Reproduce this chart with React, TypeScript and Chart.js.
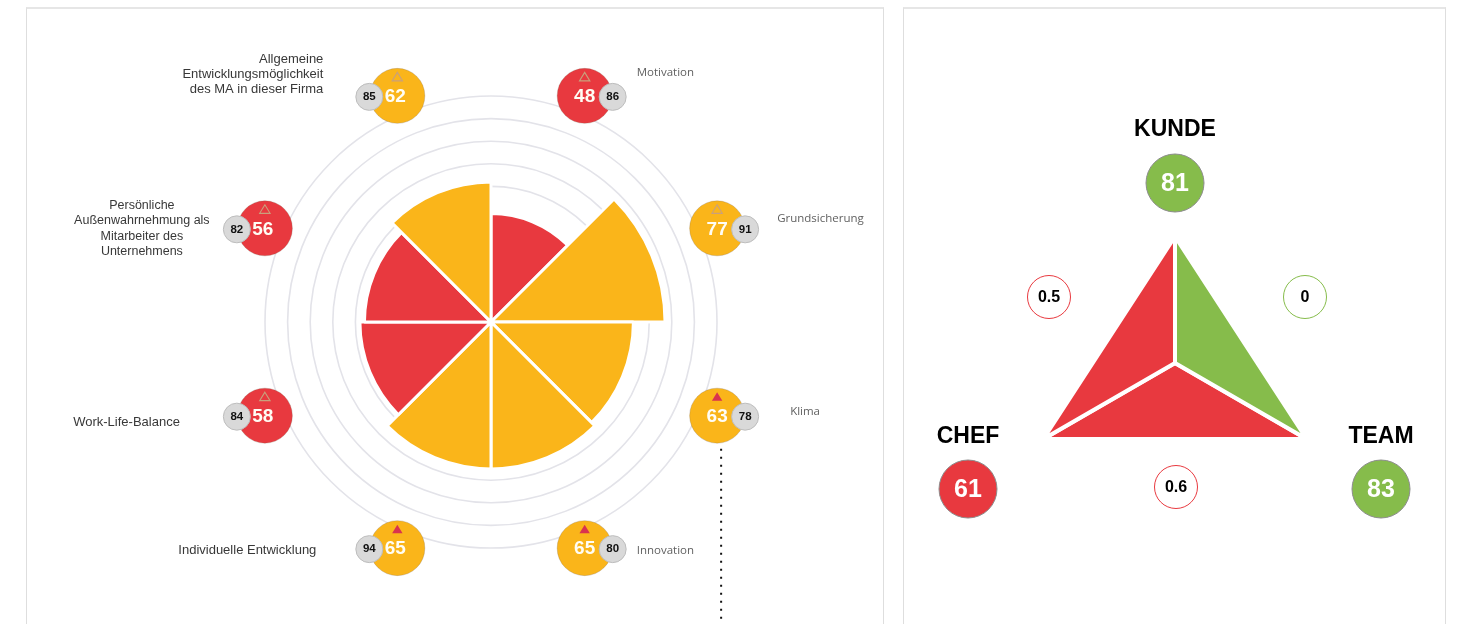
import React, { useEffect, useRef } from 'react';
import { Chart, registerables } from 'chart.js';

Chart.register(...registerables);

// ---------- Left chart data (clockwise from top) ----------
const categories = [
  'Motivation',
  'Grundsicherung',
  'Klima',
  'Innovation',
  'Individuelle Entwicklung',
  'Work-Life-Balance',
  'Persönliche Außenwahrnehmung als Mitarbeiter des Unternehmens',
  'Allgemeine Entwicklungsmöglichkeit des MA in dieser Firma',
];
const categoryLines = [
  ['Motivation'],
  ['Grundsicherung'],
  ['Klima'],
  ['Innovation'],
  ['Individuelle Entwicklung'],
  ['Work-Life-Balance'],
  ['Persönliche', 'Außenwahrnehmung als', 'Mitarbeiter des', 'Unternehmens'],
  ['Allgemeine', 'Entwicklungsmöglichkeit', 'des MA in dieser Firma'],
];
const scores = [48, 77, 63, 65, 65, 58, 56, 62];
const benchmarks = [86, 91, 78, 80, 94, 84, 82, 85];
const trendUp = [false, false, true, true, true, false, false, false];
const ringTicks = [60, 70, 80, 90, 100];
const scoreThreshold = 60;
const bubbleRingValue = 108.3;
const connectorIndex = 2;

// ---------- Right chart data ----------
const triangleAxes = ['KUNDE', 'TEAM', 'CHEF'];
const triangleScores = [81, 83, 61];
const pairNames = ['KUNDE–TEAM', 'TEAM–CHEF', 'CHEF–KUNDE'];
const pairValues = [0, 0.6, 0.5];
const greenSegment = [5, 6, 0];
const redLeftSegment = [5, 0, 6];
const redBottomSegment = [0, 6, 6];

// ---------- Styles ----------
const ORANGE = '#FAB51A';
const RED = '#E8393F';
const GREEN = '#86BC4B';
const SANS = "'Liberation Sans', Arial, sans-serif";
const HUMAN = "'Open Sans', 'Noto Sans', sans-serif";

const labelLayout = [
  { dx: 52, dy: -23, align: 'left', right: true, size: 11.5, lh: 15 },
  { dx: 60, dy: -10, align: 'left', right: true, size: 11.5, lh: 15 },
  { dx: 73, dy: -4, align: 'left', right: true, size: 11.5, lh: 15 },
  { dx: 52, dy: 3, align: 'left', right: true, size: 11.5, lh: 15 },
  { dx: -81, dy: 2, align: 'right', right: false, size: 13, lh: 15 },
  { dx: -85, dy: 7, align: 'right', right: false, size: 13, lh: 15 },
  { dx: -123, dy: 0, align: 'center', right: false, size: 12.5, lh: 15.5 },
  { dx: -74, dy: -21, align: 'right', right: false, size: 13, lh: 15 },
];

const colorFor = (v: number) => (v >= scoreThreshold ? ORANGE : RED);

function drawMarker(ctx: CanvasRenderingContext2D, x: number, y: number, filled: boolean) {
  ctx.beginPath();
  ctx.moveTo(x, y - 4.5);
  ctx.lineTo(x + 5.2, y + 4);
  ctx.lineTo(x - 5.2, y + 4);
  ctx.closePath();
  if (filled) {
    ctx.fillStyle = '#D9334F';
    ctx.fill();
  } else {
    ctx.strokeStyle = '#C9A07C';
    ctx.lineWidth = 1.1;
    ctx.stroke();
  }
}

const bubblePlugin = {
  id: 'bubbles',
  afterDraw(chart: any) {
    const ctx: CanvasRenderingContext2D = chart.ctx;
    const scale = chart.scales.r;
    const meta = chart.getDatasetMeta(0);
    const dist = scale.getDistanceFromCenterForValue(bubbleRingValue);
    ctx.save();
    meta.data.forEach((arc: any, i: number) => {
      const { x, y, startAngle, endAngle } = arc.getProps(['x', 'y', 'startAngle', 'endAngle'], true);
      const mid = (startAngle + endAngle) / 2;
      const px = x + Math.cos(mid) * dist;
      const py = y + Math.sin(mid) * dist;
      const side = Math.cos(mid) > 0 ? 1 : -1;

      if (i === connectorIndex) {
        ctx.save();
        ctx.strokeStyle = '#111';
        ctx.lineWidth = 2;
        ctx.setLineDash([2, 6]);
        ctx.beginPath();
        ctx.moveTo(px + 4, py + 33);
        ctx.lineTo(px + 4, chart.height + 10);
        ctx.stroke();
        ctx.restore();
      }

      // main bubble
      ctx.beginPath();
      ctx.arc(px, py, 27.5, 0, Math.PI * 2);
      ctx.fillStyle = colorFor(scores[i]);
      ctx.fill();
      ctx.strokeStyle = 'rgba(120,100,80,0.25)';
      ctx.lineWidth = 1;
      ctx.stroke();

      // benchmark bubble
      const gx = px + side * 28;
      const gy = py + 1;
      ctx.beginPath();
      ctx.arc(gx, gy, 13.5, 0, Math.PI * 2);
      ctx.fillStyle = '#D9D9D9';
      ctx.fill();
      ctx.strokeStyle = '#BDBDBD';
      ctx.lineWidth = 1;
      ctx.stroke();

      ctx.textBaseline = 'middle';
      ctx.textAlign = 'center';
      ctx.fillStyle = '#FFFDF5';
      ctx.font = `bold 19px ${SANS}`;
      ctx.fillText(String(scores[i]), px - (side < 0 ? 2 : 0), py + 1);

      ctx.fillStyle = '#111';
      ctx.font = `bold 11.5px ${SANS}`;
      ctx.fillText(String(benchmarks[i]), gx, gy);

      drawMarker(ctx, px, py - 19, trendUp[i]);

      // category label
      const lay = labelLayout[i];
      const lines = categoryLines[i];
      const lh = lay.lh;
      ctx.textAlign = lay.align as CanvasTextAlign;
      if (lay.right) {
        ctx.font = `${lay.size}px ${HUMAN}`;
        ctx.fillStyle = '#616161';
      } else {
        ctx.font = `${lay.size}px ${SANS}`;
        ctx.fillStyle = '#383838';
      }
      const startY = py + lay.dy - ((lines.length - 1) * lh) / 2;
      lines.forEach((ln, k) => {
        ctx.fillText(ln, px + lay.dx, startY + k * lh);
      });
    });
    ctx.restore();
  },
};

const axisLayout = [
  { lx: 0, ly: -233, bx: 0, by: -180 },
  { lx: 206, ly: 74, bx: 206, by: 126 },
  { lx: -207, ly: 74, bx: -207, by: 126 },
];
const pairLayout = [
  { x: 130, y: -66 },
  { x: 1, y: 124 },
  { x: -126, y: -66 },
];

const trianglePlugin = {
  id: 'triangleLabels',
  afterDraw(chart: any) {
    const ctx: CanvasRenderingContext2D = chart.ctx;
    const s = chart.scales.r;
    const cx = s.xCenter;
    const cy = s.yCenter;
    ctx.save();
    ctx.textAlign = 'center';
    ctx.textBaseline = 'middle';
    triangleAxes.forEach((name, i) => {
      const L = axisLayout[i];
      ctx.fillStyle = '#000';
      ctx.font = `bold 23px ${SANS}`;
      ctx.fillText(name, cx + L.lx, cy + L.ly);
      ctx.beginPath();
      ctx.arc(cx + L.bx, cy + L.by, 29, 0, Math.PI * 2);
      ctx.fillStyle = triangleScores[i] >= 75 ? GREEN : RED;
      ctx.fill();
      ctx.strokeStyle = '#8C8C8C';
      ctx.lineWidth = 1;
      ctx.stroke();
      ctx.fillStyle = '#fff';
      ctx.font = `bold 25px ${SANS}`;
      ctx.fillText(String(triangleScores[i]), cx + L.bx, cy + L.by + 1);
    });
    pairNames.forEach((_, i) => {
      const P = pairLayout[i];
      ctx.beginPath();
      ctx.arc(cx + P.x, cy + P.y, 21.5, 0, Math.PI * 2);
      ctx.fillStyle = '#fff';
      ctx.fill();
      ctx.strokeStyle = pairValues[i] > 0.3 ? RED : GREEN;
      ctx.lineWidth = 1;
      ctx.stroke();
      ctx.fillStyle = '#000';
      ctx.font = `bold 16px ${SANS}`;
      ctx.fillText(String(pairValues[i]), cx + P.x, cy + P.y + 1);
    });
    ctx.restore();
  },
};

const innerEdgesOnly = (data: number[]) => ({
  borderColor: (c: any) =>
    data[c.p0DataIndex] > 0 && data[c.p1DataIndex] > 0 ? 'rgba(255,255,255,0)' : '#ffffff',
});

export default function App() {
  const leftRef = useRef<HTMLCanvasElement>(null);
  const rightRef = useRef<HTMLCanvasElement>(null);

  useEffect(() => {
    const polar = new Chart(leftRef.current as HTMLCanvasElement, {
      type: 'polarArea',
      data: {
        labels: categories,
        datasets: [
          {
            data: scores,
            backgroundColor: scores.map(colorFor),
            borderColor: '#ffffff',
            borderWidth: 3,
          },
        ],
      },
      options: {
        responsive: false,
        animation: false,
        layout: { padding: { left: 265, top: 96, right: 741, bottom: 76 } },
        plugins: { legend: { display: false }, tooltip: { enabled: false } },
        scales: {
          r: {
            min: 0,
            max: 100,
            ticks: { display: false, stepSize: 10 },
            grid: {
              circular: true,
              color: (c: any) => (c.tick && ringTicks.includes(c.tick.value) ? '#E3E3E9' : 'rgba(0,0,0,0)'),
              lineWidth: 1.6,
            },
            angleLines: { display: false },
            pointLabels: { display: false },
          },
        },
      } as any,
      plugins: [bubblePlugin],
    });

    const mk = (data: number[], color: string) => ({
      data,
      backgroundColor: color,
      borderColor: '#ffffff',
      borderWidth: 4,
      borderCapStyle: 'butt',
      fill: 'origin',
      segment: innerEdgesOnly(data),
    });

    const radar = new Chart(rightRef.current as HTMLCanvasElement, {
      type: 'radar',
      data: {
        labels: triangleAxes,
        datasets: [mk(greenSegment, GREEN), mk(redLeftSegment, RED), mk(redBottomSegment, RED)] as any,
      },
      options: {
        responsive: false,
        animation: false,
        layout: { padding: { left: 1025, top: 213, right: 133, bottom: 111 } },
        elements: { point: { radius: 0, hoverRadius: 0 }, line: { tension: 0 } },
        plugins: { legend: { display: false }, tooltip: { enabled: false } },
        scales: { r: { display: false, min: 0, max: 5.92 } },
      } as any,
      plugins: [trianglePlugin],
    });

    return () => {
      polar.destroy();
      radar.destroy();
    };
  }, []);

  return (
    <div style={{ position: 'absolute', left: 0, top: 0, width: 1458, height: 624, overflow: 'hidden', background: '#fff' }}>
      <div
        style={{
          position: 'absolute',
          left: 26,
          top: 7,
          width: 856,
          height: 700,
          borderLeft: '1px solid #DEDEDE',
          borderRight: '1px solid #DEDEDE',
          borderTop: '2px solid #E6E6E6',
        }}
      />
      <div
        style={{
          position: 'absolute',
          left: 903,
          top: 7,
          width: 541,
          height: 700,
          borderLeft: '1px solid #DEDEDE',
          borderRight: '1px solid #DEDEDE',
          borderTop: '2px solid #E6E6E6',
        }}
      />
      <canvas ref={leftRef} width={1458} height={624} style={{ position: 'absolute', left: 0, top: 0 }} />
      <canvas ref={rightRef} width={1458} height={624} style={{ position: 'absolute', left: 0, top: 0 }} />
    </div>
  );
}
